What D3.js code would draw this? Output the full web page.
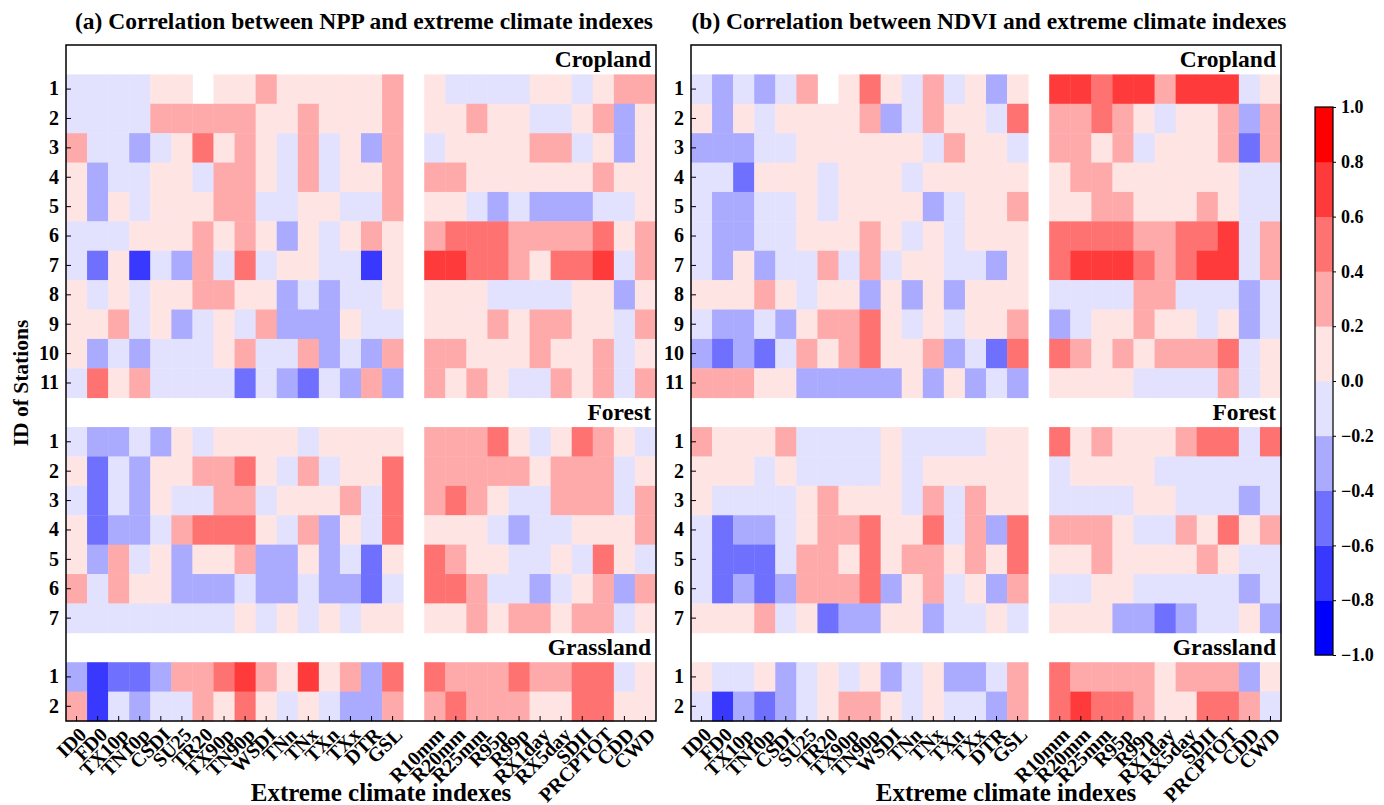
<!DOCTYPE html>
<html lang="en">
<head>
<meta charset="UTF-8">
<title>Correlation between vegetation and extreme climate indexes</title>
<style>
    body { margin: 0; background: #fff; }
    svg { font-family: "Liberation Serif", "Times New Roman", serif; font-weight: bold; }
    .axis path, .axis line { stroke: #000; }
    .axis text { font-size: 20px; font-weight: bold; fill: #000; font-family: "Liberation Serif", serif; }
</style>
</head>
<body>
<svg width="1384" height="805"></svg>
<script src="https://d3js.org/d3.v7.min.js"></script>
<script>
const tempIndexes = ["ID0","FD0","TX10p","TN10p","CSDI","SU25","TR20","TX90p","TN90p","WSDI","TNn","TNx","TXn","TXx","DTR","GSL"];
const precipIndexes = ["R10mm","R20mm","R25mm","R95p","R99p","RX1day","RX5day","SDII","PRCPTOT","CDD","CWD"];
const landTypes = ["Cropland","Forest","Grassland"];
const colorTicks = [-1.0,-0.8,-0.6,-0.4,-0.2,0.0,0.2,0.4,0.6,0.8,1.0];
const binColors = ["#0000ff","#3838ff","#7070ff","#aaaaff","#e2e2ff","#ffe4e4","#ffaaaa","#ff7272","#ff3a3a","#ff0000"];

// rows = stations, values = 16 temperature indexes then 11 precipitation indexes (null = no value)
const nppCropland = [
    [-.1,-.1,-.1,-.1,.1,.1,null,.1,.1,.3,.1,.1,.1,.1,.1,.3, .1,-.1,-.1,-.1,-.1,.1,.1,-.1,.1,.3,.3],
    [-.1,-.1,-.1,-.1,.3,.3,.3,.3,.3,.1,.1,.3,.1,.1,.1,.3, .1,.1,.3,.1,.1,-.1,-.1,.1,.3,-.3,.1],
    [.3,-.1,-.1,-.3,-.1,.1,.5,.1,.3,.1,-.1,.3,-.1,.1,-.3,.3, -.1,.1,.1,.1,.1,.3,.3,-.1,.1,-.3,.1],
    [.1,-.3,-.1,-.1,.1,.1,-.1,.3,.3,.1,-.1,.3,-.1,.1,.1,.3, .3,.3,.1,.1,.1,.1,.1,.1,.3,.1,.1],
    [.1,-.3,.1,-.1,.1,.1,.1,.3,.3,-.1,-.1,.1,.1,-.1,-.1,.3, .1,.1,-.1,-.3,-.1,-.3,-.3,-.3,-.1,-.1,.1],
    [-.1,-.1,-.1,.1,.1,.1,.3,.1,.3,.1,-.3,.1,-.1,.1,.3,.1, .3,.5,.5,.5,.3,.3,.3,.3,.5,.1,.3],
    [-.1,-.5,.1,-.7,-.1,-.3,.3,-.1,.5,-.1,.1,.1,-.1,-.1,-.7,.1, .7,.7,.5,.5,.3,.1,.5,.5,.7,-.1,.3],
    [.1,-.1,.1,-.1,.1,.1,.3,.3,.1,.1,-.3,-.1,-.3,-.1,-.1,.1, .1,.1,.1,-.1,-.1,-.1,-.1,.1,.1,-.3,.1],
    [.1,.1,.3,-.1,.1,-.3,-.1,.1,-.1,.3,-.3,-.3,-.3,.1,-.1,-.1, .1,.1,.1,.3,.1,.3,.3,.1,.1,-.1,.3],
    [.1,-.3,-.1,-.3,-.1,-.1,-.1,.1,.3,-.1,-.1,.3,-.3,-.1,-.3,.3, .3,.3,.1,.1,.1,.3,.1,.1,.3,-.1,.1],
    [-.1,.5,.1,.3,-.1,-.1,-.1,-.1,-.5,-.1,-.3,-.5,-.1,-.3,.3,-.3, .3,.1,.3,.1,-.1,-.1,.3,.1,.3,-.1,.3]
];
const nppForest = [
    [-.1,-.3,-.3,-.1,-.3,.1,-.1,.1,.1,.1,.1,-.1,.1,.1,.1,.1, .3,.3,.3,.5,.1,-.1,.1,.5,.3,.1,-.1],
    [.1,-.5,-.1,-.3,.1,.1,.3,.3,.5,.1,-.1,.3,-.1,.1,.1,.5, .3,.3,.3,.3,.3,.1,.3,.3,.3,-.1,.1],
    [-.1,-.5,-.1,-.3,.1,-.1,-.1,.3,.3,-.1,.1,.1,.1,.3,-.1,.5, .3,.5,.3,.1,-.1,-.1,.3,.3,.3,-.1,.3],
    [.1,-.5,-.3,-.3,-.1,.3,.5,.5,.5,.1,-.1,.3,-.3,.1,-.1,.5, .1,.1,.1,-.1,-.3,-.1,-.1,.1,.1,.1,.3],
    [.1,-.3,.3,-.1,.1,-.3,.1,.1,.3,-.3,-.3,.1,-.3,-.1,-.5,.1, .5,.3,.1,.1,-.1,-.1,.1,-.1,.5,.1,-.1],
    [.3,-.1,.3,.1,.1,-.3,-.3,-.3,-.1,-.3,-.3,-.1,-.3,-.3,-.5,-.1, .5,.5,.3,-.1,-.1,-.3,-.1,.1,.3,-.3,.3],
    [-.1,-.1,-.1,-.1,-.1,-.1,-.1,-.1,.1,-.1,.1,-.1,.1,-.1,.1,.1, .1,.1,.3,.1,.3,.3,.1,.3,.3,-.1,.1]
];
const nppGrassland = [
    [-.3,-.7,-.5,-.5,-.3,.3,.3,.5,.7,.3,.1,.7,.1,.3,-.3,.5, .5,.3,.3,.3,.5,.3,.3,.5,.5,-.1,.1],
    [.3,-.7,-.1,-.3,-.1,-.1,.3,.1,.5,.1,-.1,.1,-.1,-.3,-.3,.3, .3,.5,.3,.3,.3,.1,.1,.5,.5,.1,.1]
];
const ndviCropland = [
    [-.1,-.3,-.1,-.3,-.1,.3,null,.1,.5,.1,-.1,.3,-.1,.1,-.3,.1, .7,.7,.5,.7,.7,.3,.7,.7,.7,-.1,.1],
    [.1,-.3,.1,-.1,.1,.1,.1,.1,.3,-.3,-.1,.3,.1,.1,-.1,.5, .3,.3,.5,.3,.1,-.1,.1,.1,.3,-.3,.3],
    [-.3,-.3,-.3,-.1,-.1,.1,.1,.1,.1,.1,.1,-.1,.3,.1,.1,-.1, .3,.3,.1,.3,-.1,.1,.1,.1,.3,-.5,.3],
    [-.1,-.1,-.5,.1,.1,.1,-.1,.1,.1,.1,-.1,.1,.1,.1,.1,.1, .1,.3,.3,.1,.1,.1,.1,.1,.1,-.1,-.1],
    [-.1,-.3,-.3,-.1,-.1,.1,-.1,.1,.1,.1,.1,-.3,-.1,.1,.1,.3, .1,.1,.3,.3,.1,.1,.1,.3,.1,-.1,-.1],
    [-.1,-.3,-.3,-.1,-.1,.1,.1,.1,.3,.1,-.1,.1,-.1,.1,.1,.1, .5,.5,.5,.5,.3,.3,.5,.5,.7,-.1,.3],
    [-.1,-.3,.1,-.3,-.1,-.1,.3,-.1,.3,-.1,.1,.1,-.1,-.1,-.3,.1, .5,.7,.7,.7,.5,.3,.5,.7,.7,-.1,.3],
    [.1,.1,.1,.3,.1,-.1,.1,.1,-.3,.1,-.3,.1,-.3,.1,.1,.1, -.1,-.1,-.1,-.1,.3,.3,-.1,-.1,-.1,-.3,-.1],
    [-.1,-.3,-.3,-.1,-.3,.1,.3,.3,.5,.1,-.1,.1,-.1,.1,.1,.3, -.3,-.1,.1,.1,.3,.1,.1,-.1,.1,-.3,-.1],
    [-.3,-.5,-.3,-.5,-.1,.3,.1,.3,.5,.1,.1,.3,-.3,-.1,-.5,.5, .5,.3,.1,.3,.1,.3,.3,.3,.5,-.1,.1],
    [.3,.3,.3,.1,.1,-.3,-.3,-.3,-.3,-.3,.1,-.3,.1,-.3,-.1,-.3, .1,.1,.1,.1,-.1,-.1,-.1,-.1,.3,-.1,.1]
];
const ndviForest = [
    [.3,.1,.1,.1,.3,-.1,-.1,-.1,-.1,.1,-.1,-.1,-.1,-.1,.1,.1, .5,.1,.3,.1,.1,.1,.3,.5,.5,-.1,.5],
    [.1,.1,.1,-.1,.1,-.1,-.1,-.1,-.1,.1,-.1,.1,.1,.1,.1,.1, -.1,.1,.1,.1,.1,-.1,-.1,-.1,-.1,-.1,-.1],
    [.1,-.1,-.1,-.1,-.1,.1,.3,.1,.1,.1,-.1,.3,-.1,.3,.1,.1, -.1,-.1,-.1,-.1,.1,.1,-.1,-.1,-.1,-.3,-.1],
    [-.1,-.5,-.3,-.3,-.1,.1,.3,.3,.5,.1,.1,.5,-.1,.3,-.3,.5, .3,.3,.3,.1,-.1,-.1,.3,.1,.5,.1,.3],
    [-.1,-.5,-.5,-.5,-.1,.3,.3,.1,.5,.1,.3,.3,.1,.3,.1,.5, .1,.1,.3,.1,.1,.1,.1,.3,.1,-.1,-.1],
    [-.1,-.5,-.3,-.5,-.3,.3,.3,.3,.5,-.3,.1,.3,-.1,.1,-.3,.3, -.1,-.1,.1,.1,-.1,-.1,-.1,-.1,-.1,-.3,-.1],
    [.1,.1,.1,.3,-.1,.1,-.5,-.3,-.3,.1,.1,-.3,-.1,-.1,.1,-.1, .1,.1,.1,-.3,-.3,-.5,-.3,-.1,-.1,.1,-.3]
];
const ndviGrassland = [
    [.1,-.1,-.1,.1,-.3,-.1,.1,-.1,.1,-.3,-.1,.1,-.3,-.3,-.1,.3, .5,.3,.3,.3,.3,.1,.3,.3,.3,-.3,.1],
    [-.1,-.7,-.3,-.5,-.3,-.1,.1,.3,.3,.1,-.1,.1,-.1,-.1,-.3,.3, .5,.7,.5,.5,.3,.1,.1,.5,.5,.3,-.1]
];

const svg = d3.select("svg");
const plotW = 590, plotTop = 45, plotBottom = 721;

const color = d3.scaleThreshold()
    .domain(colorTicks.slice(1, -1))
    .range(binColors);

const valueCols = [...tempIndexes, ...precipIndexes];
const columns = [...tempIndexes, "gap", ...precipIndexes];

const panels = [
    {title: "(a) Correlation between NPP and extreme climate indexes", left: 66,
     groups: [nppCropland, nppForest, nppGrassland], yTitle: "ID of Stations"},
    {title: "(b) Correlation between NDVI and extreme climate indexes", left: 691,
     groups: [ndviCropland, ndviForest, ndviGrassland], yTitle: null}
];

panels.forEach(p => {
    const g = svg.append("g");
    const x = d3.scaleBand().domain(columns).range([p.left, p.left + plotW]);
    const rowKeys = landTypes.flatMap((lt, gi) =>
        [lt + "|h", ...p.groups[gi].map((_, i) => lt + "|" + (i + 1))]);
    const y = d3.scaleBand().domain(rowKeys).range([plotTop, plotBottom]);

    // cells
    p.groups.forEach((rows, gi) => {
        const cells = rows.flatMap((vals, ri) => vals.map((v, ci) =>
            ({row: landTypes[gi] + "|" + (ri + 1), col: valueCols[ci], v})));
        g.append("g").selectAll("rect")
            .data(cells.filter(d => d.v !== null))
            .join("rect")
            .attr("x", d => x(d.col))
            .attr("y", d => y(d.row))
            .attr("width", x.bandwidth() + 0.4)
            .attr("height", y.bandwidth() + 0.4)
            .attr("fill", d => color(d.v));
    });

    // land type labels
    g.selectAll(".land")
        .data(landTypes)
        .join("text")
        .attr("x", p.left + plotW - 5)
        .attr("y", d => y(d + "|h") + y.bandwidth() * 0.76)
        .attr("text-anchor", "end")
        .style("font-size", "23.5px")
        .text(d => d);

    // axes
    const yAxis = d3.axisLeft(y)
        .tickValues(rowKeys.filter(k => !k.endsWith("|h")))
        .tickFormat(k => k.split("|")[1])
        .tickSizeInner(-5).tickSizeOuter(0).tickPadding(7);
    g.append("g").attr("class", "axis")
        .attr("transform", `translate(${p.left},0)`)
        .call(yAxis)
        .call(s => s.select(".domain").remove());

    const xAxis = d3.axisBottom(x)
        .tickValues(valueCols)
        .tickSizeInner(-5).tickSizeOuter(0);
    g.append("g").attr("class", "axis")
        .attr("transform", `translate(0,${plotBottom})`)
        .call(xAxis)
        .call(s => s.select(".domain").remove())
        .call(s => s.selectAll(".tick text")
            .attr("x", 0).attr("y", 0).attr("dy", "0.78em")
            .attr("text-anchor", "end")
            .attr("transform", "translate(0,4) rotate(-45)"));

    // frame
    g.append("rect")
        .attr("x", p.left).attr("y", plotTop)
        .attr("width", plotW).attr("height", plotBottom - plotTop)
        .attr("fill", "none").attr("stroke", "#000").attr("stroke-width", 1.5);

    // titles
    g.append("text")
        .attr("x", p.left + plotW / 2 + 3).attr("y", 29)
        .attr("text-anchor", "middle")
        .style("font-size", "23.5px")
        .text(p.title);
    g.append("text")
        .attr("x", p.left + plotW / 2 + 20).attr("y", 801)
        .attr("text-anchor", "middle")
        .style("font-size", "25px")
        .text("Extreme climate indexes");
    if (p.yTitle) {
        g.append("text")
            .attr("transform", `translate(28,${(plotTop + plotBottom) / 2}) rotate(-90)`)
            .attr("text-anchor", "middle")
            .style("font-size", "21.5px")
            .text(p.yTitle);
    }
});

// colorbar
const cb = svg.append("g");
const cbLeft = 1315, cbW = 18;
const cy = d3.scaleLinear().domain([-1, 1]).range([655, 107]);
cb.selectAll("rect")
    .data(binColors)
    .join("rect")
    .attr("x", cbLeft)
    .attr("y", (d, i) => cy(colorTicks[i + 1]))
    .attr("width", cbW)
    .attr("height", (d, i) => cy(colorTicks[i]) - cy(colorTicks[i + 1]) + 0.4)
    .attr("fill", d => d);
cb.append("rect")
    .attr("x", cbLeft).attr("y", cy(1))
    .attr("width", cbW).attr("height", cy(-1) - cy(1))
    .attr("fill", "none").attr("stroke", "#000").attr("stroke-width", 1.2);
cb.append("g").attr("class", "axis")
    .attr("transform", `translate(${cbLeft + cbW},0)`)
    .call(d3.axisRight(cy).tickValues(colorTicks).tickFormat(d3.format(".1f")).tickSize(3).tickPadding(5))
    .call(s => s.select(".domain").remove())
    .call(s => s.selectAll("text").style("font-size", "18px"));
</script>
</body>
</html>
